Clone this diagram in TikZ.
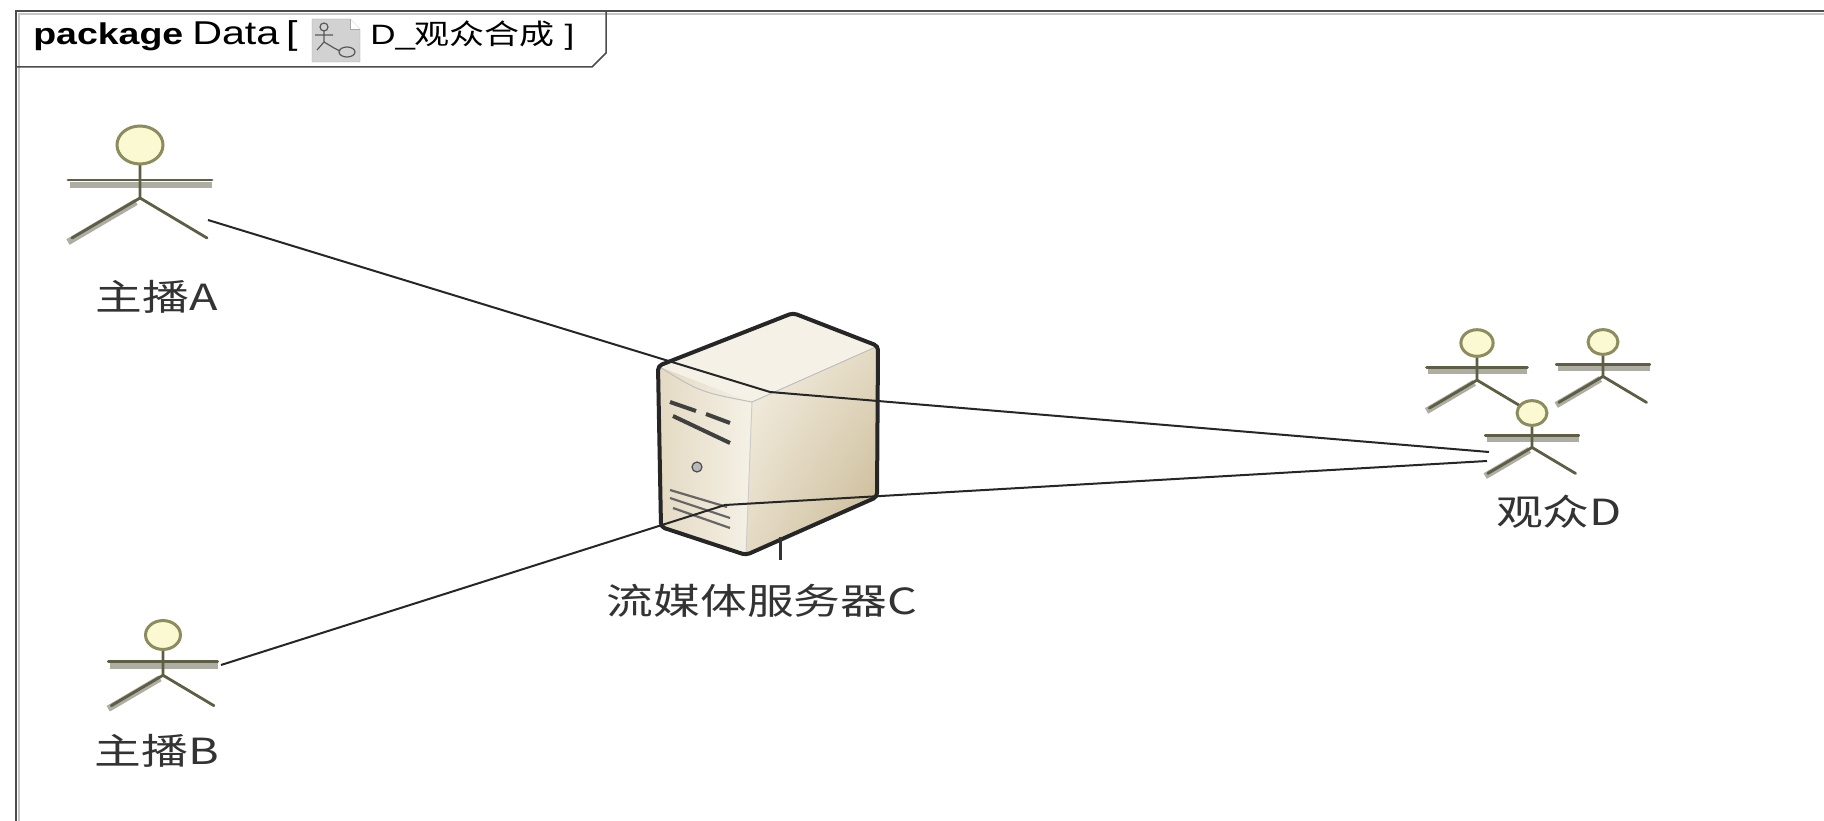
\documentclass[tikz,border=0pt]{standalone}
\usepackage{fontspec}
\setmainfont{Liberation Sans}
\newfontfamily\cjk{Noto Sans CJK SC}
\usetikzlibrary{shadings}

\definecolor{limbcol}{HTML}{5E5E44}
\definecolor{limbshade}{HTML}{ADADA4}
\definecolor{headfill}{HTML}{FBF9D2}
\definecolor{headline}{HTML}{8C8C5E}
\definecolor{srvlight}{HTML}{F5F1E6}
\definecolor{srvmid}{HTML}{E4DAC3}
\definecolor{srvdark}{HTML}{C6B58F}

\tikzset{
  limb/.style={draw=limbcol, line width=2.8, line cap=round},
  limbshadow/.style={draw=limbshade, line width=6.5},
  head/.style={draw=headline, fill=headfill, line width=3},
  conn/.style={draw=black!85, line width=2},
  lbl/.style={font=\cjk\fontsize{36}{40}\selectfont, text=black!80, xscale=1.3, inner sep=0pt},
  hdr/.style={font=\fontsize{30}{34}\selectfont, xscale=1.25, inner sep=0pt, anchor=base west},
  actor/.pic={
    \draw[limbshadow] (-70,40) -- (72,40);
    \draw[limbshadow] (-4,57) -- (-72,97);
    \draw[limb] (-72,35) -- (72,35);
    \draw[limb] (0,19) -- (0,53) -- (-68,93);
    \draw[limb] (0,53) -- (67,93);
    \draw[head] (0,0) ellipse [x radius=23, y radius=19];
  }
}

\begin{document}
\begin{tikzpicture}[x=1pt,y=-1pt]
  \fill[white] (0,0) rectangle (1824,821);
  \useasboundingbox (0,0) rectangle (1824,821);

  % frame and name tab
  \draw[gray!45, line width=1.5] (19,821) -- (19,14) -- (1824,14);
  \draw[black!70, line width=2] (16,821) -- (16,11) -- (1824,11);
  \draw[black!70, line width=1.5] (16,67) -- (592,67) -- (606,53) -- (606,11);
  \node[hdr, font=\bfseries\fontsize{30}{34}\selectfont] (kind) at (33,45) {package};
  \node[hdr, font=\fontsize{33}{36}\selectfont] (pkg) at (192,45) {Data\,[};
  \draw[gray!70, fill=gray!35] (312,19) -- (350,19) -- (360,29) -- (360,62) -- (312,62) -- cycle;
  \draw[gray!70, fill=white] (350,19) -- (350,29) -- (360,29);
  \draw[black!65, line width=1.2] (324,27) circle (4) (315,35) -- (333,35)
    (324,31) -- (324,42) -- (317,50) (324,42) -- (334,48) -- (340,51);
  \draw[black!65, line width=1.2] (347,52) ellipse [x radius=8, y radius=5];
  \node[hdr, font=\fontsize{28}{32}\selectfont] (diag) at (370,45) {D\_{\cjk 观众合成} ]};

  % server
  \coordinate (sa) at (658,366);
  \coordinate (sb) at (793,313);
  \coordinate (sc) at (878,346);
  \coordinate (sd) at (752,402);
  \coordinate (sa2) at (661,527);
  \coordinate (sd2) at (746,555);
  \coordinate (sc2) at (877,497);
  \shade[left color=srvmid, right color=srvlight] (sa) -- (sd) -- (sd2) -- (sa2) -- cycle;
  \shade[upper left=srvlight, upper right=srvmid, lower left=srvmid, lower right=srvdark]
    (sd) -- (sc) -- (sc2) -- (sd2) -- cycle;
  \fill[srvlight] (sa) -- (sb) -- (sc) -- (sd) -- cycle;
  \draw[black!25, line width=1] (sa) .. controls (700,392) .. (sd) -- (sc);
  \draw[black!20, line width=1] (sd) -- (sd2);
  \draw[black!85, line width=4, rounded corners=4] (sa) -- (sb) -- (sc) -- (sc2) -- (sd2) -- (sa2) -- cycle;
  \draw[black!75, line width=4] (670,402) -- (696,411) (706,414) -- (730,423);
  \draw[black!75, line width=4] (673,416) -- (730,443);
  \draw[black!70, fill=gray!55, line width=1.2] (697,467) circle (5);
  \draw[black!60, line width=2.2] (670,490) -- (727,507) (670,498) -- (730,518) (673,508) -- (730,528);
  \draw[black!80, line width=3] (780,537) -- (780,560);

  % actors
  \pic at (140,145) {actor};
  \pic[scale=0.76] at (163,635) {actor};
  \pic[scale=0.70] at (1477,343) {actor};
  \pic[scale=0.65] at (1603,342) {actor};
  \pic[scale=0.65] at (1532,413) {actor};

  % labels
  \node[lbl] (nameA) at (157,297) {主播A};
  \node[lbl] (nameB) at (157,751) {主播B};
  \node[lbl] (nameC) at (762,601) {流媒体服务器C};
  \node[lbl] (nameD) at (1559,512) {观众D};

  % connectors
  \coordinate (endA) at (208,220);
  \coordinate (endB) at (221,665);
  \coordinate (hubA) at (770,392);
  \coordinate (hubB) at (725,505);
  \coordinate (endD1) at (1489,452);
  \coordinate (endD2) at (1487,461);
  \draw[conn] (endA) -- (hubA) -- (endD1);
  \draw[conn] (endB) -- (hubB) -- (endD2);
\end{tikzpicture}
\end{document}
